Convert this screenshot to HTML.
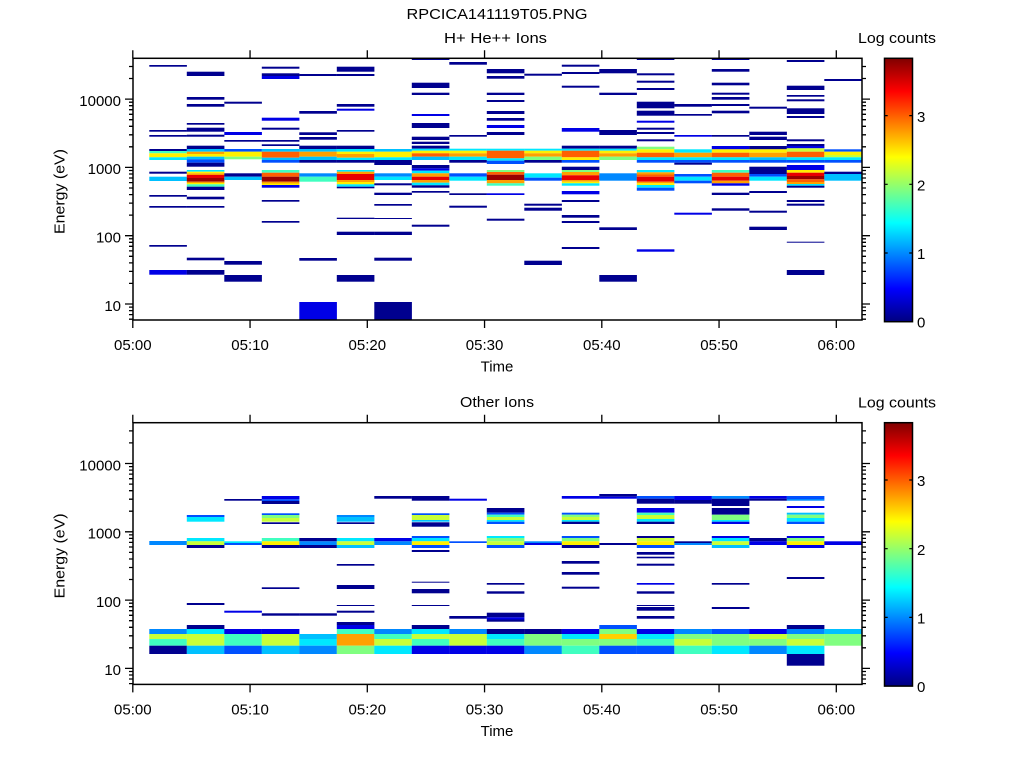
<!DOCTYPE html>
<html><head><meta charset="utf-8"><style>
html,body{margin:0;padding:0;background:#fff}
svg{display:block}
text{font-family:"Liberation Sans",sans-serif;font-size:15px;fill:#000}
.n{fill:#00008f}.b{fill:#0000e6}.mb{fill:#0050ff}.lb{fill:#0088ff}.sb{fill:#00c0ff}.c{fill:#00e8ff}
.aq{fill:#40ffc0}.g{fill:#80ff80}.yg{fill:#c8ff38}.y{fill:#fff000}.gd{fill:#ffd000}.o{fill:#ffa000}
.or{fill:#ff6000}.r{fill:#e80000}.dr{fill:#980000}
</style></head><body>
<svg width="1024" height="768" viewBox="0 0 1024 768" xmlns="http://www.w3.org/2000/svg">
<defs>
<linearGradient id="jet" x1="0" y1="1" x2="0" y2="0">
<stop offset="0" stop-color="#000080"/><stop offset="0.125" stop-color="#0000ff"/>
<stop offset="0.375" stop-color="#00ffff"/><stop offset="0.625" stop-color="#ffff00"/>
<stop offset="0.875" stop-color="#ff0000"/><stop offset="1" stop-color="#800000"/>
</linearGradient>
</defs>
<rect width="1024" height="768" fill="#fff"/>

<text x="497" y="19" text-anchor="middle" textLength="181" lengthAdjust="spacingAndGlyphs">RPCICA141119T05.PNG</text>
<text x="495.5" y="43" text-anchor="middle" textLength="103" lengthAdjust="spacingAndGlyphs">H+ He++ Ions</text>
<text x="497" y="407" text-anchor="middle" textLength="74" lengthAdjust="spacingAndGlyphs">Other Ions</text>

<!-- TOP PANEL DATA -->
<g transform="translate(149.3,0)">
<rect width="37.6" y="65" height="1.7" class="n"/><rect width="37.6" y="130" height="1.7" class="n"/><rect width="37.6" y="135" height="1.7" class="n"/>
<rect width="37.6" y="149" height="2" class="n"/><rect width="37.6" y="151" height="2.3" class="aq"/><rect width="37.6" y="153.3" height="4" class="y"/><rect width="37.6" y="157.3" height="2.7" class="c"/>
<rect width="37.6" y="171.7" height="2" class="n"/><rect width="37.6" y="176.7" height="4.3" class="sb"/><rect width="37.6" y="195" height="1.7" class="n"/>
<rect width="37.6" y="206" height="1.7" class="n"/><rect width="37.6" y="245" height="1.7" class="n"/><rect width="37.6" y="270" height="4.7" class="b"/>
</g>
<g transform="translate(186.8,0)">
<rect width="37.6" y="71.7" height="4.3" class="n"/><rect width="37.6" y="97" height="2.7" class="n"/><rect width="37.6" y="104" height="2.7" class="n"/>
<rect width="37.6" y="123" height="1.7" class="n"/><rect width="37.6" y="127.7" height="4" class="n"/><rect width="37.6" y="134.7" height="2" class="n"/>
<rect width="37.6" y="145.7" height="3.3" class="n"/><rect width="37.6" y="149" height="2.7" class="sb"/><rect width="37.6" y="151.7" height="2.3" class="o"/>
<rect width="37.6" y="154" height="2.7" class="y"/><rect width="37.6" y="156.7" height="2.6" class="sb"/><rect width="37.6" y="159.3" height="3.4" class="mb"/>
<rect width="37.6" y="162.7" height="4" class="n"/><rect width="37.6" y="170" height="1.7" class="c"/><rect width="37.6" y="171.7" height="1.6" class="y"/>
<rect width="37.6" y="173.3" height="1.7" class="o"/><rect width="37.6" y="175" height="3" class="r"/><rect width="37.6" y="178" height="3.7" class="dr"/>
<rect width="37.6" y="181.7" height="1.3" class="o"/><rect width="37.6" y="183" height="1.3" class="y"/><rect width="37.6" y="184.3" height="2.4" class="aq"/>
<rect width="37.6" y="186.7" height="3.3" class="n"/><rect width="37.6" y="196.7" height="2.6" class="n"/><rect width="37.6" y="206" height="1.7" class="n"/>
<rect width="37.6" y="257.7" height="2.6" class="n"/><rect width="37.6" y="270" height="4.7" class="n"/>
</g>
<g transform="translate(224.3,0)">
<rect width="37.6" y="101.7" height="2" class="n"/><rect width="37.6" y="132" height="3" class="b"/><rect width="37.6" y="140" height="1.7" class="n"/>
<rect width="37.6" y="149" height="2.7" class="mb"/><rect width="37.6" y="151.7" height="5" class="y"/><rect width="37.6" y="156.7" height="2.6" class="g"/>
<rect width="37.6" y="173.3" height="3.4" class="n"/><rect width="37.6" y="176.7" height="3.3" class="sb"/><rect width="37.6" y="261" height="3.7" class="n"/>
<rect width="37.6" y="275" height="6.7" class="n"/>
</g>
<g transform="translate(261.8,0)">
<rect width="37.6" y="66.7" height="2" class="n"/><rect width="37.6" y="73.3" height="2.7" class="n"/><rect width="37.6" y="76" height="3" class="b"/>
<rect width="37.6" y="117.7" height="3" class="b"/><rect width="37.6" y="127.7" height="2" class="n"/><rect width="37.6" y="140" height="1.7" class="n"/>
<rect width="37.6" y="144.3" height="1.7" class="n"/><rect width="37.6" y="149" height="2.7" class="sb"/><rect width="37.6" y="151.7" height="6" class="or"/>
<rect width="37.6" y="157.7" height="2.3" class="sb"/><rect width="37.6" y="160" height="2.7" class="mb"/><rect width="37.6" y="170" height="2.7" class="aq"/>
<rect width="37.6" y="172.7" height="4" class="or"/><rect width="37.6" y="176.7" height="5" class="dr"/><rect width="37.6" y="181.7" height="1.8" class="o"/>
<rect width="37.6" y="183.5" height="1.5" class="y"/><rect width="37.6" y="185" height="2.7" class="b"/><rect width="37.6" y="200" height="1.7" class="n"/>
<rect width="37.6" y="221" height="1.7" class="n"/>
</g>
<g transform="translate(299.3,0)">
<rect width="37.6" y="74" height="2" class="n"/><rect width="37.6" y="111" height="2.7" class="n"/><rect width="37.6" y="132.3" height="2.7" class="n"/>
<rect width="37.6" y="137" height="2.7" class="n"/><rect width="37.6" y="145.7" height="3.3" class="n"/><rect width="37.6" y="149" height="2.7" class="sb"/>
<rect width="37.6" y="151.7" height="5" class="o"/><rect width="37.6" y="156.7" height="3.3" class="sb"/><rect width="37.6" y="160" height="2.7" class="n"/>
<rect width="37.6" y="173.3" height="3.4" class="lb"/><rect width="37.6" y="176.7" height="5" class="aq"/><rect width="37.6" y="258" height="2.7" class="n"/>
<rect width="37.6" y="302" height="18" class="b"/>
</g>
<g transform="translate(336.8,0)">
<rect width="37.6" y="66.7" height="5" class="n"/><rect width="37.6" y="74" height="2" class="n"/><rect width="37.6" y="104" height="2.7" class="n"/>
<rect width="37.6" y="108.7" height="2" class="b"/><rect width="37.6" y="130" height="1.7" class="n"/><rect width="37.6" y="145.7" height="3.3" class="n"/>
<rect width="37.6" y="149" height="2.7" class="c"/><rect width="37.6" y="151.7" height="2.3" class="y"/><rect width="37.6" y="154" height="3.7" class="o"/>
<rect width="37.6" y="157.7" height="2.3" class="c"/><rect width="37.6" y="160" height="2.7" class="n"/><rect width="37.6" y="170" height="1.7" class="c"/>
<rect width="37.6" y="171.7" height="2.3" class="o"/><rect width="37.6" y="174" height="6" class="r"/><rect width="37.6" y="180" height="2" class="o"/>
<rect width="37.6" y="182" height="2.3" class="y"/><rect width="37.6" y="184.3" height="2.4" class="c"/><rect width="37.6" y="186.7" height="1.6" class="n"/>
<rect width="37.6" y="217.7" height="1.3" class="n"/><rect width="37.6" y="231.7" height="3.3" class="n"/><rect width="37.6" y="275" height="6.7" class="n"/>
</g>
<g transform="translate(374.3,0)">
<rect width="37.6" y="149" height="2.7" class="sb"/><rect width="37.6" y="151.7" height="5.6" class="y"/><rect width="37.6" y="157.3" height="2.7" class="c"/>
<rect width="37.6" y="160" height="5" class="n"/><rect width="37.6" y="173.3" height="3.4" class="lb"/><rect width="37.6" y="176.7" height="3.3" class="c"/>
<rect width="37.6" y="183.3" height="2" class="n"/><rect width="37.6" y="192.7" height="2.3" class="n"/><rect width="37.6" y="204" height="1.7" class="n"/>
<rect width="37.6" y="218" height="1" class="n"/><rect width="37.6" y="231.7" height="3.3" class="n"/><rect width="37.6" y="257.7" height="3" class="n"/>
<rect width="37.6" y="302" height="18" class="n"/>
</g>
<g transform="translate(411.8,0)">
<rect width="37.6" y="58.3" height="1.7" class="n"/><rect width="37.6" y="82.7" height="5.3" class="n"/><rect width="37.6" y="92.7" height="2.3" class="n"/>
<rect width="37.6" y="114" height="2" class="b"/><rect width="37.6" y="123" height="5" class="n"/><rect width="37.6" y="136.7" height="3.3" class="n"/>
<rect width="37.6" y="141.7" height="2.3" class="n"/><rect width="37.6" y="145.7" height="3" class="n"/><rect width="37.6" y="148.7" height="2" class="c"/>
<rect width="37.6" y="150.7" height="2.6" class="y"/><rect width="37.6" y="153.3" height="3.4" class="or"/><rect width="37.6" y="156.7" height="3.3" class="sb"/>
<rect width="37.6" y="165" height="3.3" class="n"/><rect width="37.6" y="168.3" height="2.4" class="b"/><rect width="37.6" y="170.7" height="2.6" class="c"/>
<rect width="37.6" y="173.3" height="3.4" class="o"/><rect width="37.6" y="176.7" height="3.3" class="r"/><rect width="37.6" y="180" height="2.7" class="o"/>
<rect width="37.6" y="182.7" height="2.6" class="c"/><rect width="37.6" y="185.3" height="2.4" class="n"/><rect width="37.6" y="191" height="1.7" class="n"/>
<rect width="37.6" y="224.7" height="2" class="n"/>
</g>
<g transform="translate(449.3,0)">
<rect width="37.6" y="62" height="2.7" class="n"/><rect width="37.6" y="135" height="1.7" class="n"/><rect width="37.6" y="148.7" height="2" class="c"/>
<rect width="37.6" y="150.7" height="2.6" class="y"/><rect width="37.6" y="153.3" height="3.4" class="o"/><rect width="37.6" y="156.7" height="3.3" class="c"/>
<rect width="37.6" y="160" height="2.7" class="n"/><rect width="37.6" y="173.3" height="3.4" class="mb"/><rect width="37.6" y="176.7" height="4" class="c"/>
<rect width="37.6" y="193.3" height="1.7" class="n"/><rect width="37.6" y="205.7" height="2" class="n"/>
</g>
<g transform="translate(486.8,0)">
<rect width="37.6" y="69" height="4.3" class="n"/><rect width="37.6" y="76" height="2.7" class="n"/><rect width="37.6" y="92.7" height="2.3" class="n"/>
<rect width="37.6" y="100" height="2" class="n"/><rect width="37.6" y="111" height="3" class="n"/><rect width="37.6" y="118" height="2.7" class="n"/>
<rect width="37.6" y="125" height="3" class="b"/><rect width="37.6" y="132" height="3" class="n"/><rect width="37.6" y="148.7" height="2" class="c"/>
<rect width="37.6" y="150.7" height="7.6" class="or"/><rect width="37.6" y="158.3" height="2.4" class="c"/><rect width="37.6" y="160.7" height="3.3" class="mb"/>
<rect width="37.6" y="170" height="2" class="g"/><rect width="37.6" y="172" height="2.7" class="or"/><rect width="37.6" y="174.7" height="5.3" class="dr"/>
<rect width="37.6" y="180" height="3.3" class="o"/><rect width="37.6" y="183.3" height="2.4" class="aq"/><rect width="37.6" y="193.3" height="1.7" class="b"/>
<rect width="37.6" y="218.7" height="2" class="n"/>
</g>
<g transform="translate(524.3,0)">
<rect width="37.6" y="73.7" height="2" class="n"/><rect width="37.6" y="148.7" height="2" class="c"/><rect width="37.6" y="150.7" height="2.6" class="y"/>
<rect width="37.6" y="153.3" height="3.4" class="o"/><rect width="37.6" y="156.7" height="3.3" class="g"/><rect width="37.6" y="160" height="2.7" class="n"/>
<rect width="37.6" y="173.3" height="4.4" class="c"/><rect width="37.6" y="177.7" height="3" class="mb"/><rect width="37.6" y="203.7" height="2" class="n"/>
<rect width="37.6" y="207.7" height="3" class="n"/><rect width="37.6" y="260.7" height="4.3" class="n"/>
</g>
<g transform="translate(561.8,0)">
<rect width="37.6" y="64.7" height="2" class="n"/><rect width="37.6" y="72" height="2" class="n"/><rect width="37.6" y="85.7" height="2" class="n"/>
<rect width="37.6" y="128" height="3.7" class="b"/><rect width="37.6" y="145.7" height="3" class="n"/><rect width="37.6" y="148.7" height="2" class="c"/>
<rect width="37.6" y="150.7" height="6.6" class="or"/><rect width="37.6" y="157.3" height="2.7" class="y"/><rect width="37.6" y="160" height="2.7" class="mb"/>
<rect width="37.6" y="166.7" height="3.3" class="n"/><rect width="37.6" y="170" height="2" class="g"/><rect width="37.6" y="172" height="3.3" class="o"/>
<rect width="37.6" y="175.3" height="4.7" class="r"/><rect width="37.6" y="180" height="1.7" class="o"/><rect width="37.6" y="181.7" height="1.6" class="y"/>
<rect width="37.6" y="183.3" height="2.4" class="c"/><rect width="37.6" y="191" height="3.3" class="b"/><rect width="37.6" y="200" height="2" class="n"/>
<rect width="37.6" y="215" height="2.7" class="n"/><rect width="37.6" y="221" height="2" class="n"/><rect width="37.6" y="247" height="2" class="n"/>
</g>
<g transform="translate(599.3,0)">
<rect width="37.6" y="69" height="4.3" class="n"/><rect width="37.6" y="92.7" height="2.3" class="n"/><rect width="37.6" y="130" height="5" class="n"/>
<rect width="37.6" y="145.7" height="3" class="n"/><rect width="37.6" y="148.7" height="2" class="c"/><rect width="37.6" y="150.7" height="2.6" class="y"/>
<rect width="37.6" y="153.3" height="3.4" class="o"/><rect width="37.6" y="156.7" height="3.3" class="g"/><rect width="37.6" y="173.3" height="7.4" class="lb"/>
<rect width="37.6" y="227.3" height="2.7" class="n"/><rect width="37.6" y="275" height="6.7" class="n"/>
</g>
<g transform="translate(636.8,0)">
<rect width="37.6" y="58.3" height="1.7" class="n"/><rect width="37.6" y="73.3" height="2" class="n"/><rect width="37.6" y="80.7" height="2" class="n"/>
<rect width="37.6" y="88" height="2" class="n"/><rect width="37.6" y="101.7" height="6.6" class="n"/><rect width="37.6" y="110.7" height="5" class="n"/>
<rect width="37.6" y="120.7" height="2" class="b"/><rect width="37.6" y="127.7" height="2" class="n"/><rect width="37.6" y="132" height="2" class="n"/>
<rect width="37.6" y="139.3" height="2" class="n"/><rect width="37.6" y="146.7" height="2.6" class="g"/><rect width="37.6" y="149.3" height="3.4" class="y"/>
<rect width="37.6" y="152.7" height="4.6" class="or"/><rect width="37.6" y="157.3" height="2.7" class="c"/><rect width="37.6" y="160" height="2.7" class="mb"/>
<rect width="37.6" y="170" height="2.3" class="c"/><rect width="37.6" y="172.3" height="2.2" class="o"/><rect width="37.6" y="174.5" height="2.2" class="or"/>
<rect width="37.6" y="176.7" height="5" class="r"/><rect width="37.6" y="181.7" height="1.6" class="o"/><rect width="37.6" y="183.3" height="1.7" class="y"/>
<rect width="37.6" y="185" height="2.7" class="c"/><rect width="37.6" y="187.7" height="3" class="mb"/><rect width="37.6" y="249.3" height="2.4" class="b"/>
</g>
<g transform="translate(674.3,0)">
<rect width="37.6" y="104" height="2.7" class="n"/><rect width="37.6" y="114" height="1.7" class="n"/><rect width="37.6" y="135" height="1.7" class="b"/>
<rect width="37.6" y="149.3" height="3.4" class="c"/><rect width="37.6" y="152.7" height="4.6" class="o"/><rect width="37.6" y="157.3" height="2.7" class="c"/>
<rect width="37.6" y="160" height="2.7" class="mb"/><rect width="37.6" y="162.7" height="2" class="n"/><rect width="37.6" y="174" height="2.7" class="mb"/>
<rect width="37.6" y="176.7" height="4" class="c"/><rect width="37.6" y="180.7" height="2.6" class="mb"/><rect width="37.6" y="212.7" height="2" class="b"/>
</g>
<g transform="translate(711.8,0)">
<rect width="37.6" y="58.3" height="1.7" class="n"/><rect width="37.6" y="69" height="2.7" class="n"/><rect width="37.6" y="82.7" height="2.6" class="n"/>
<rect width="37.6" y="92.7" height="2" class="n"/><rect width="37.6" y="97" height="2.7" class="n"/><rect width="37.6" y="104" height="2" class="n"/>
<rect width="37.6" y="110.7" height="2.6" class="n"/><rect width="37.6" y="135" height="1.7" class="n"/><rect width="37.6" y="146" height="3.3" class="b"/>
<rect width="37.6" y="149.3" height="3.4" class="y"/><rect width="37.6" y="152.7" height="4.6" class="or"/><rect width="37.6" y="157.3" height="2.7" class="c"/>
<rect width="37.6" y="160" height="2.7" class="mb"/><rect width="37.6" y="170" height="2.7" class="aq"/><rect width="37.6" y="172.7" height="4" class="or"/>
<rect width="37.6" y="176.7" height="4" class="r"/><rect width="37.6" y="180.7" height="2.6" class="o"/><rect width="37.6" y="183.3" height="2.4" class="b"/>
<rect width="37.6" y="192.7" height="2.3" class="n"/><rect width="37.6" y="208.3" height="2.4" class="n"/>
</g>
<g transform="translate(749.3,0)">
<rect width="37.6" y="106.7" height="2" class="n"/><rect width="37.6" y="131.7" height="3.3" class="n"/><rect width="37.6" y="136.7" height="3.3" class="n"/>
<rect width="37.6" y="146" height="3.3" class="n"/><rect width="37.6" y="149.3" height="3.4" class="y"/><rect width="37.6" y="152.7" height="4.6" class="o"/>
<rect width="37.6" y="157.3" height="2.7" class="sb"/><rect width="37.6" y="160" height="2.7" class="mb"/><rect width="37.6" y="166.7" height="7.3" class="n"/>
<rect width="37.6" y="174" height="2.7" class="mb"/><rect width="37.6" y="176.7" height="4" class="c"/><rect width="37.6" y="191" height="2" class="n"/>
<rect width="37.6" y="210.7" height="2" class="n"/><rect width="37.6" y="226.7" height="3.3" class="n"/>
</g>
<g transform="translate(786.8,0)">
<rect width="37.6" y="60" height="2" class="n"/><rect width="37.6" y="85.7" height="4.3" class="n"/><rect width="37.6" y="95" height="1.7" class="n"/>
<rect width="37.6" y="99.3" height="2" class="n"/><rect width="37.6" y="108.3" height="5.7" class="n"/><rect width="37.6" y="116" height="2" class="n"/>
<rect width="37.6" y="139.3" height="2" class="n"/><rect width="37.6" y="144" height="2" class="n"/><rect width="37.6" y="146" height="2.3" class="b"/>
<rect width="37.6" y="148.3" height="3.4" class="yg"/><rect width="37.6" y="151.7" height="5.6" class="or"/><rect width="37.6" y="157.3" height="2.7" class="c"/>
<rect width="37.6" y="160" height="2.7" class="mb"/><rect width="37.6" y="165" height="5" class="b"/><rect width="37.6" y="170" height="2.7" class="y"/>
<rect width="37.6" y="172.7" height="3.3" class="r"/><rect width="37.6" y="176" height="3.3" class="dr"/><rect width="37.6" y="179.3" height="2.7" class="or"/>
<rect width="37.6" y="182" height="2" class="o"/><rect width="37.6" y="184" height="1.7" class="c"/><rect width="37.6" y="185.7" height="2" class="n"/>
<rect width="37.6" y="200" height="2" class="n"/><rect width="37.6" y="203.7" height="2" class="n"/><rect width="37.6" y="241.7" height="1" class="n"/>
<rect width="37.6" y="270" height="5" class="n"/>
</g>
<g transform="translate(824.3,0)">
<rect width="37.7" y="79" height="2" class="n"/><rect width="37.7" y="149.3" height="2.4" class="mb"/><rect width="37.7" y="151.7" height="3.3" class="y"/>
<rect width="37.7" y="155" height="2.3" class="yg"/><rect width="37.7" y="157.3" height="2.7" class="c"/><rect width="37.7" y="160" height="2.7" class="mb"/>
<rect width="37.7" y="171.7" height="2.3" class="n"/><rect width="37.7" y="174" height="6.7" class="sb"/>
</g>

<!-- BOTTOM PANEL DATA -->
<g transform="translate(149.3,0)">
<rect width="37.6" y="541" height="4" class="lb"/><rect width="37.6" y="629" height="5" class="lb"/><rect width="37.6" y="634" height="5" class="yg"/>
<rect width="37.6" y="639" height="6.7" class="aq"/><rect width="37.6" y="645.7" height="8.3" class="n"/>
</g>
<g transform="translate(186.8,0)">
<rect width="37.6" y="515" height="2" class="mb"/><rect width="37.6" y="517" height="4.7" class="c"/><rect width="37.6" y="538" height="3.3" class="c"/>
<rect width="37.6" y="541.3" height="3.7" class="yg"/><rect width="37.6" y="545" height="3" class="n"/><rect width="37.6" y="603" height="2" class="n"/>
<rect width="37.6" y="625" height="4" class="n"/><rect width="37.6" y="629" height="5" class="c"/><rect width="37.6" y="634" height="11.7" class="yg"/>
<rect width="37.6" y="645.7" height="8.3" class="sb"/>
</g>
<g transform="translate(224.3,0)">
<rect width="37.6" y="499" height="1.7" class="n"/><rect width="37.6" y="541.3" height="1.7" class="c"/><rect width="37.6" y="543" height="2" class="mb"/>
<rect width="37.6" y="610.7" height="2" class="b"/><rect width="37.6" y="629" height="5" class="b"/><rect width="37.6" y="634" height="11.7" class="aq"/>
<rect width="37.6" y="645.7" height="8.3" class="mb"/>
</g>
<g transform="translate(261.8,0)">
<rect width="37.6" y="496" height="3.3" class="b"/><rect width="37.6" y="499.3" height="1.7" class="mb"/><rect width="37.6" y="501" height="3" class="n"/>
<rect width="37.6" y="513.3" height="1.7" class="mb"/><rect width="37.6" y="515" height="3" class="g"/><rect width="37.6" y="518" height="3.7" class="yg"/>
<rect width="37.6" y="522.3" height="1.7" class="n"/><rect width="37.6" y="538" height="3.3" class="aq"/><rect width="37.6" y="541.3" height="3.7" class="y"/>
<rect width="37.6" y="545" height="3" class="n"/><rect width="37.6" y="587.3" height="1.7" class="n"/><rect width="37.6" y="613.3" height="2.4" class="n"/>
<rect width="37.6" y="629" height="5" class="b"/><rect width="37.6" y="634" height="11.7" class="yg"/><rect width="37.6" y="645.7" height="8.3" class="sb"/>
</g>
<g transform="translate(299.3,0)">
<rect width="37.6" y="538" height="3.3" class="n"/><rect width="37.6" y="541.3" height="3.7" class="lb"/><rect width="37.6" y="545" height="3" class="n"/>
<rect width="37.6" y="613.3" height="2.4" class="n"/><rect width="37.6" y="634" height="5" class="sb"/><rect width="37.6" y="639" height="6.7" class="c"/>
<rect width="37.6" y="645.7" height="8.3" class="lb"/>
</g>
<g transform="translate(336.8,0)">
<rect width="37.6" y="515" height="2" class="lb"/><rect width="37.6" y="517" height="4.7" class="sb"/><rect width="37.6" y="522.3" height="1.7" class="n"/>
<rect width="37.6" y="538" height="3.3" class="c"/><rect width="37.6" y="541.3" height="3.7" class="yg"/><rect width="37.6" y="545" height="3" class="sb"/>
<rect width="37.6" y="564" height="1.7" class="n"/><rect width="37.6" y="585" height="4" class="n"/><rect width="37.6" y="605" height="1" class="n"/>
<rect width="37.6" y="610.7" height="2" class="n"/><rect width="37.6" y="622" height="3" class="n"/><rect width="37.6" y="625" height="4" class="b"/>
<rect width="37.6" y="629" height="5" class="aq"/><rect width="37.6" y="634" height="11.7" class="o"/><rect width="37.6" y="645.7" height="8.3" class="g"/>
</g>
<g transform="translate(374.3,0)">
<rect width="37.6" y="496" height="2.7" class="n"/><rect width="37.6" y="538" height="3.3" class="b"/><rect width="37.6" y="541.3" height="3.7" class="lb"/>
<rect width="37.6" y="629" height="5" class="lb"/><rect width="37.6" y="634" height="5" class="aq"/><rect width="37.6" y="639" height="6.7" class="yg"/>
<rect width="37.6" y="645.7" height="8.3" class="c"/>
</g>
<g transform="translate(411.8,0)">
<rect width="37.6" y="496" height="4.7" class="n"/><rect width="37.6" y="513.3" height="1.7" class="mb"/><rect width="37.6" y="515" height="5" class="yg"/>
<rect width="37.6" y="520" height="1.7" class="sb"/><rect width="37.6" y="522.3" height="4.4" class="n"/><rect width="37.6" y="536" height="2" class="mb"/>
<rect width="37.6" y="538" height="3.3" class="c"/><rect width="37.6" y="541.3" height="3.7" class="y"/><rect width="37.6" y="545" height="3" class="mb"/>
<rect width="37.6" y="550" height="2" class="n"/><rect width="37.6" y="581.7" height="1" class="n"/><rect width="37.6" y="589" height="4.3" class="n"/>
<rect width="37.6" y="605" height="1" class="n"/><rect width="37.6" y="625" height="4" class="n"/><rect width="37.6" y="629" height="5" class="c"/>
<rect width="37.6" y="634" height="5" class="yg"/><rect width="37.6" y="639" height="6.7" class="aq"/><rect width="37.6" y="645.7" height="8.3" class="b"/>
</g>
<g transform="translate(449.3,0)">
<rect width="37.6" y="498.7" height="2" class="b"/><rect width="37.6" y="541.3" height="1.7" class="mb"/><rect width="37.6" y="616" height="2.7" class="n"/>
<rect width="37.6" y="629" height="5" class="lb"/><rect width="37.6" y="634" height="11.7" class="yg"/><rect width="37.6" y="645.7" height="8.3" class="b"/>
</g>
<g transform="translate(486.8,0)">
<rect width="37.6" y="508" height="4.7" class="n"/><rect width="37.6" y="512.7" height="2" class="mb"/><rect width="37.6" y="514.7" height="2.3" class="aq"/>
<rect width="37.6" y="517" height="3" class="yg"/><rect width="37.6" y="520" height="1.7" class="c"/><rect width="37.6" y="521.7" height="2.3" class="mb"/>
<rect width="37.6" y="536" height="2" class="c"/><rect width="37.6" y="538" height="3.3" class="g"/><rect width="37.6" y="541.3" height="3.7" class="yg"/>
<rect width="37.6" y="545" height="3" class="mb"/><rect width="37.6" y="583" height="1.7" class="n"/><rect width="37.6" y="591.3" height="2.4" class="n"/>
<rect width="37.6" y="612.7" height="4.6" class="n"/><rect width="37.6" y="617.3" height="2.2" class="b"/><rect width="37.6" y="619.5" height="2.2" class="n"/>
<rect width="37.6" y="629" height="5" class="n"/><rect width="37.6" y="634" height="5" class="c"/><rect width="37.6" y="639" height="6.7" class="aq"/>
<rect width="37.6" y="645.7" height="8.3" class="b"/>
</g>
<g transform="translate(524.3,0)">
<rect width="37.6" y="541.3" height="1.7" class="lb"/><rect width="37.6" y="543" height="2" class="b"/><rect width="37.6" y="629" height="5" class="n"/>
<rect width="37.6" y="634" height="11.7" class="g"/><rect width="37.6" y="645.7" height="8.3" class="lb"/>
</g>
<g transform="translate(561.8,0)">
<rect width="37.6" y="496" height="2.7" class="b"/><rect width="37.6" y="512.7" height="2" class="mb"/><rect width="37.6" y="514.7" height="2.3" class="g"/>
<rect width="37.6" y="517" height="3" class="yg"/><rect width="37.6" y="520" height="1.7" class="c"/><rect width="37.6" y="521.7" height="2.3" class="n"/>
<rect width="37.6" y="536" height="2" class="mb"/><rect width="37.6" y="538" height="3.3" class="g"/><rect width="37.6" y="541.3" height="3.7" class="y"/>
<rect width="37.6" y="545" height="3" class="n"/><rect width="37.6" y="561" height="2.7" class="n"/><rect width="37.6" y="572" height="2.7" class="n"/>
<rect width="37.6" y="586.7" height="2" class="n"/><rect width="37.6" y="629" height="5" class="b"/><rect width="37.6" y="634" height="5" class="c"/>
<rect width="37.6" y="639" height="6.7" class="g"/><rect width="37.6" y="645.7" height="8.3" class="aq"/>
</g>
<g transform="translate(599.3,0)">
<rect width="37.6" y="494" height="2.7" class="n"/><rect width="37.6" y="496.7" height="2" class="b"/><rect width="37.6" y="543" height="2" class="n"/>
<rect width="37.6" y="625" height="4" class="mb"/><rect width="37.6" y="629" height="5" class="g"/><rect width="37.6" y="634" height="5" class="gd"/>
<rect width="37.6" y="639" height="6.7" class="g"/><rect width="37.6" y="645.7" height="8.3" class="mb"/>
</g>
<g transform="translate(636.8,0)">
<rect width="37.6" y="496" height="2.7" class="mb"/><rect width="37.6" y="498.7" height="5" class="n"/><rect width="37.6" y="508" height="4.7" class="b"/>
<rect width="37.6" y="512.7" height="2.3" class="aq"/><rect width="37.6" y="515" height="4" class="yg"/><rect width="37.6" y="519" height="2.7" class="c"/>
<rect width="37.6" y="521.7" height="2.3" class="n"/><rect width="37.6" y="536" height="2" class="n"/><rect width="37.6" y="538" height="3.3" class="yg"/>
<rect width="37.6" y="541.3" height="3.7" class="y"/><rect width="37.6" y="545" height="3" class="mb"/><rect width="37.6" y="552" height="2.7" class="n"/>
<rect width="37.6" y="556.7" height="1.6" class="n"/><rect width="37.6" y="563.7" height="2" class="n"/><rect width="37.6" y="583" height="1.7" class="b"/>
<rect width="37.6" y="591.3" height="2.4" class="n"/><rect width="37.6" y="605" height="1" class="n"/><rect width="37.6" y="607" height="3.7" class="n"/>
<rect width="37.6" y="616" height="2.7" class="n"/><rect width="37.6" y="629" height="5" class="b"/><rect width="37.6" y="634" height="5" class="c"/>
<rect width="37.6" y="639" height="6.7" class="aq"/><rect width="37.6" y="645.7" height="8.3" class="mb"/>
</g>
<g transform="translate(674.3,0)">
<rect width="37.6" y="496" height="4" class="b"/><rect width="37.6" y="500" height="3.7" class="n"/><rect width="37.6" y="541.3" height="1.7" class="n"/>
<rect width="37.6" y="543" height="2" class="lb"/><rect width="37.6" y="629" height="5" class="lb"/><rect width="37.6" y="634" height="5" class="g"/>
<rect width="37.6" y="639" height="6.7" class="yg"/><rect width="37.6" y="645.7" height="8.3" class="aq"/>
</g>
<g transform="translate(711.8,0)">
<rect width="37.6" y="496" height="2.7" class="lb"/><rect width="37.6" y="498.7" height="7.3" class="n"/><rect width="37.6" y="508" height="6.7" class="n"/>
<rect width="37.6" y="514.7" height="5.3" class="g"/><rect width="37.6" y="520" height="1.7" class="c"/><rect width="37.6" y="521.7" height="2.3" class="b"/>
<rect width="37.6" y="536" height="2" class="b"/><rect width="37.6" y="538" height="3.3" class="c"/><rect width="37.6" y="541.3" height="3.7" class="yg"/>
<rect width="37.6" y="545" height="3" class="sb"/><rect width="37.6" y="583" height="1.7" class="n"/><rect width="37.6" y="607" height="2" class="n"/>
<rect width="37.6" y="629" height="5" class="mb"/><rect width="37.6" y="634" height="11.7" class="g"/><rect width="37.6" y="645.7" height="8.3" class="c"/>
</g>
<g transform="translate(749.3,0)">
<rect width="37.6" y="496" height="2.7" class="b"/><rect width="37.6" y="498.7" height="2" class="n"/><rect width="37.6" y="538" height="3.3" class="n"/>
<rect width="37.6" y="541.3" height="3.7" class="b"/><rect width="37.6" y="629" height="5" class="b"/><rect width="37.6" y="634" height="5" class="yg"/>
<rect width="37.6" y="639" height="6.7" class="g"/><rect width="37.6" y="645.7" height="8.3" class="lb"/>
</g>
<g transform="translate(786.8,0)">
<rect width="37.6" y="496" height="3" class="mb"/><rect width="37.6" y="499" height="1.7" class="lb"/><rect width="37.6" y="506" height="2" class="b"/>
<rect width="37.6" y="512.7" height="2" class="sb"/><rect width="37.6" y="514.7" height="3.3" class="g"/><rect width="37.6" y="518" height="3.7" class="c"/>
<rect width="37.6" y="521.7" height="2.3" class="mb"/><rect width="37.6" y="536" height="2" class="b"/><rect width="37.6" y="538" height="3.3" class="g"/>
<rect width="37.6" y="541.3" height="3.7" class="y"/><rect width="37.6" y="545" height="3" class="b"/><rect width="37.6" y="577" height="2" class="n"/>
<rect width="37.6" y="625" height="4" class="n"/><rect width="37.6" y="629" height="5" class="lb"/><rect width="37.6" y="634" height="5" class="g"/>
<rect width="37.6" y="639" height="6.7" class="yg"/><rect width="37.6" y="645.7" height="8.3" class="c"/><rect width="37.6" y="654" height="11.7" class="n"/>
</g>
<g transform="translate(824.3,0)">
<rect width="37.7" y="541.3" height="3.7" class="b"/><rect width="37.7" y="629" height="5" class="sb"/><rect width="37.7" y="634" height="11.7" class="g"/>
</g>

<!-- AXES (top panel), reused for bottom -->
<g id="ax">
<rect x="133" y="58.3" width="729" height="261.7" fill="none" stroke="#000" stroke-width="1.5"/>
<path fill="none" stroke="#000" stroke-width="1.3" d="
M132.8 58.3V50.3M250.05 58.3V50.3M367.3 58.3V50.3M484.55 58.3V50.3M601.8 58.3V50.3M719.05 58.3V50.3M836.3 58.3V50.3
M132.8 320v8M250.05 320v8M367.3 320v8M484.55 320v8M601.8 320v8M719.05 320v8M836.3 320v8
M125 304h8M125 235.7h8M125 167.4h8M125 99.1h8
M862 304h8M862 235.7h8M862 167.4h8M862 99.1h8
M129 319.2h4M129 314.6h4M129 310.6h4M129 307.1h4M129 283.4h4M129 271.4h4M129 262.9h4M129 256.3h4M129 250.9h4M129 246.3h4M129 242.3h4M129 238.8h4
M129 215.1h4M129 203.1h4M129 194.6h4M129 188h4M129 182.6h4M129 178h4M129 174h4M129 170.5h4
M129 146.8h4M129 134.8h4M129 126.3h4M129 119.7h4M129 114.3h4M129 109.7h4M129 105.7h4M129 102.2h4M129 78.5h4M129 66.5h4
M862 319.2h4M862 314.6h4M862 310.6h4M862 307.1h4M862 283.4h4M862 271.4h4M862 262.9h4M862 256.3h4M862 250.9h4M862 246.3h4M862 242.3h4M862 238.8h4
M862 215.1h4M862 203.1h4M862 194.6h4M862 188h4M862 182.6h4M862 178h4M862 174h4M862 170.5h4
M862 146.8h4M862 134.8h4M862 126.3h4M862 119.7h4M862 114.3h4M862 109.7h4M862 105.7h4M862 102.2h4M862 78.5h4M862 66.5h4
"/>
<g text-anchor="middle">
<text x="132.8" y="350">05:00</text><text x="250.05" y="350">05:10</text><text x="367.3" y="350">05:20</text>
<text x="484.55" y="350">05:30</text><text x="601.8" y="350">05:40</text><text x="719.05" y="350">05:50</text><text x="836.3" y="350">06:00</text>
<text x="497" y="371.5">Time</text>
<text x="897" y="43" textLength="78" lengthAdjust="spacingAndGlyphs">Log counts</text>
</g>
<g text-anchor="end">
<text x="121" y="310.8">10</text><text x="121" y="242.5">100</text><text x="121" y="174.2">1000</text><text x="121" y="105.9">10000</text>
</g>
<text transform="translate(64.5,191.5) rotate(-90)" text-anchor="middle" textLength="85" lengthAdjust="spacingAndGlyphs">Energy (eV)</text>
<rect x="884.5" y="58.3" width="28" height="263.4" fill="url(#jet)" stroke="#000" stroke-width="1.5"/>
<path fill="none" stroke="#000" stroke-width="1.2" d="M884.5 253h3.2M909.3 253h3.2M884.5 184.3h3.2M909.3 184.3h3.2M884.5 115.6h3.2M909.3 115.6h3.2"/>
<text x="917" y="327.5">0</text><text x="917" y="259.2">1</text><text x="917" y="190.5">2</text><text x="917" y="121.8">3</text>
</g>
<use href="#ax" x="0" y="364.4"/>
</svg>
</body></html>
